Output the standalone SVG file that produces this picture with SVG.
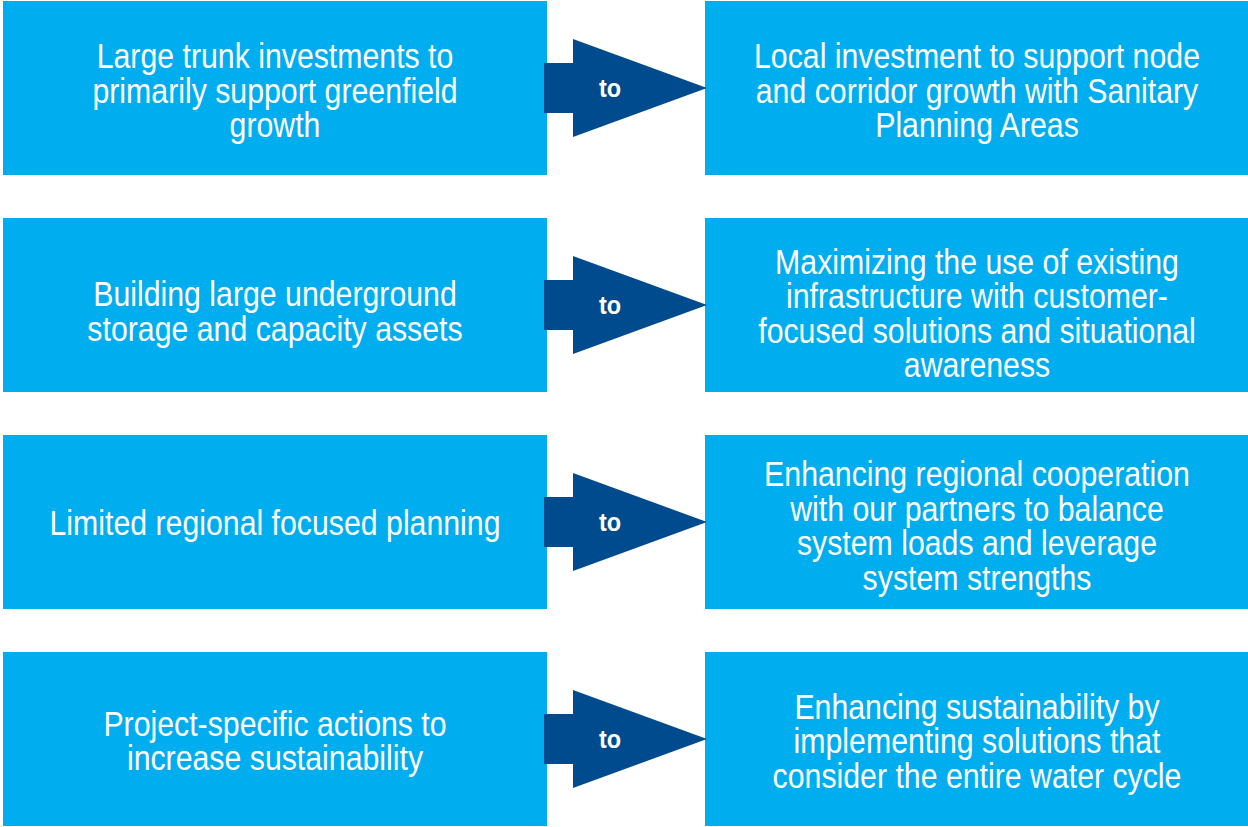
<svg xmlns="http://www.w3.org/2000/svg" width="1248" height="827" viewBox="0 0 1248 827">
  <style>
    .box { fill: #00AEEF; }
    .lbl { font-family: "Liberation Sans", Arial, sans-serif; font-size: 35px; fill: #FFFFFF; text-anchor: middle; }
    .arrow { fill: #004B8D; }
    .to { font-family: "Liberation Sans", Arial, sans-serif; font-size: 26px; font-weight: bold; fill: #FFFFFF; text-anchor: middle; }
  </style>
  <defs>
    <!-- block arrow: short shaft plus triangular head, centred on y = 0 -->
    <path id="blockArrow" class="arrow" d="M544,-25 H573 V-49 L707,0 L573,49 V25 H544 Z"/>
  </defs>
  <rect width="1248" height="827" fill="#FFFFFF"/>

  <!-- Row 1 -->
  <g id="from-trunk">
    <rect class="box" x="3" y="1" width="544" height="174"/>
    <g transform="translate(275,0) scale(0.865,1)">
      <text class="lbl" x="0" y="68.5">Large trunk investments to</text>
      <text class="lbl" x="0" y="103">primarily support greenfield</text>
      <text class="lbl" x="0" y="137.5">growth</text>
    </g>
  </g>
  <g id="to-local">
    <rect class="box" x="705" y="1" width="544" height="174"/>
    <g transform="translate(977,0) scale(0.865,1)">
      <text class="lbl" x="0" y="68.5">Local investment to support node</text>
      <text class="lbl" x="0" y="103">and corridor growth with Sanitary</text>
      <text class="lbl" x="0" y="137.5">Planning Areas</text>
    </g>
  </g>

  <!-- Row 2 -->
  <g id="from-storage">
    <rect class="box" x="3" y="218" width="544" height="174"/>
    <g transform="translate(275,0) scale(0.865,1)">
      <text class="lbl" x="0" y="306.5">Building large underground</text>
      <text class="lbl" x="0" y="341">storage and capacity assets</text>
    </g>
  </g>
  <g id="to-existing">
    <rect class="box" x="705" y="218" width="544" height="174"/>
    <g transform="translate(977,0) scale(0.865,1)">
      <text class="lbl" x="0" y="274">Maximizing the use of existing</text>
      <text class="lbl" x="0" y="308.5">infrastructure with customer-</text>
      <text class="lbl" x="0" y="343">focused solutions and situational</text>
      <text class="lbl" x="0" y="377.5">awareness</text>
    </g>
  </g>

  <!-- Row 3 -->
  <g id="from-regional">
    <rect class="box" x="3" y="435" width="544" height="174"/>
    <g transform="translate(275,0) scale(0.865,1)">
      <text class="lbl" x="0" y="535">Limited regional focused planning</text>
    </g>
  </g>
  <g id="to-cooperation">
    <rect class="box" x="705" y="435" width="544" height="174"/>
    <g transform="translate(977,0) scale(0.865,1)">
      <text class="lbl" x="0" y="486.5">Enhancing regional cooperation</text>
      <text class="lbl" x="0" y="521">with our partners to balance</text>
      <text class="lbl" x="0" y="555.5">system loads and leverage</text>
      <text class="lbl" x="0" y="590">system strengths</text>
    </g>
  </g>

  <!-- Row 4 -->
  <g id="from-project">
    <rect class="box" x="3" y="652" width="544" height="174"/>
    <g transform="translate(275,0) scale(0.865,1)">
      <text class="lbl" x="0" y="736">Project-specific actions to</text>
      <text class="lbl" x="0" y="770.5">increase sustainability</text>
    </g>
  </g>
  <g id="to-water-cycle">
    <rect class="box" x="705" y="652" width="544" height="174"/>
    <g transform="translate(977,0) scale(0.865,1)">
      <text class="lbl" x="0" y="719">Enhancing sustainability by</text>
      <text class="lbl" x="0" y="753.5">implementing solutions that</text>
      <text class="lbl" x="0" y="788">consider the entire water cycle</text>
    </g>
  </g>

  <!-- Connectors -->
  <g id="connectors">
    <g transform="translate(0,88)">
      <use href="#blockArrow"/>
      <text class="to" transform="translate(610,9) scale(0.9,1)">to</text>
    </g>
    <g transform="translate(0,305)">
      <use href="#blockArrow"/>
      <text class="to" transform="translate(610,9) scale(0.9,1)">to</text>
    </g>
    <g transform="translate(0,522)">
      <use href="#blockArrow"/>
      <text class="to" transform="translate(610,9) scale(0.9,1)">to</text>
    </g>
    <g transform="translate(0,739)">
      <use href="#blockArrow"/>
      <text class="to" transform="translate(610,9) scale(0.9,1)">to</text>
    </g>
  </g>
</svg>
